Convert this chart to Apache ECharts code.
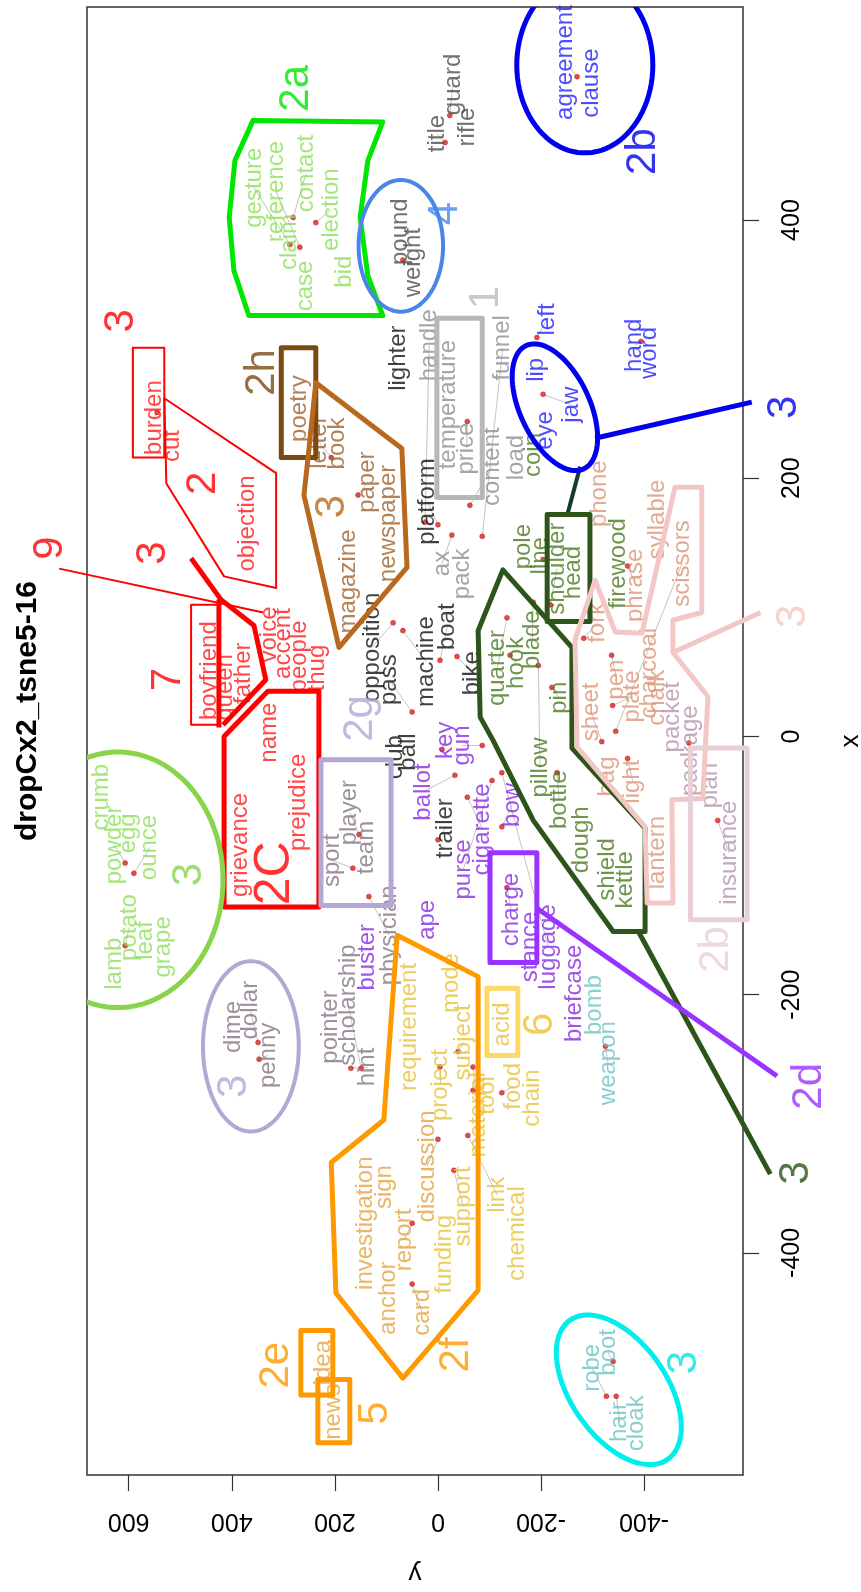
<!DOCTYPE html>
<html>
<head>
<meta charset="utf-8">
<script src="https://cdn.jsdelivr.net/npm/echarts@6/dist/echarts.min.js"></script>
<style>
html, body { margin: 0; padding: 0; background: #fff; }
#chart { width: 861px; height: 1592px; }
</style>
</head>
<body>
<div id="chart"></div>
<script>
// t-SNE coordinates (x = horizontal axis of the original plot, y = vertical)
var words = [
  'gesture','reference','claim','contact','case','election','bid','crumb','powder','egg','ounce','lamb','potato','leaf','grape',
  'title','guard','rifle','pound','weight',
  'agreement','clause','left','lip','eye','jaw','hand','word',
  'burden','cut','objection','boyfriend','queen','father','voice','accent','people','thug','name','grievance','prejudice',
  'poetry','letter','book','paper','newspaper','magazine',
  'opposition','pass','lighter','platform','machine','boat','bike','club','ball','trailer',
  'handle','temperature','price','content','funnel','load','ax','pack',
  'coin','pole','line','quarter','hook','blade','pin','pillow','bottle','dough','shield','kettle','firewood','shoulder','head',
  'phone','syllable','phrase','scissors','fork','pen','plate','charcoal','chalk','sheet','bag','light','lantern',
  'packet','package','plan','insurance',
  'sport','player','team','pointer','scholarship','hint','physician','dime','dollar','penny',
  'key','gun','ballot','purse','cigarette','bow','ape','charge','stance','luggage','briefcase','buster',
  'bomb','weapon','robe','boot','hair','cloak',
  'investigation','sign','anchor','report','discussion','card','idea','news',
  'requirement','project','subject','mode','acid','food','chain','tool','material','link','chemical','support','funding'
];
var wordX = [
  425,422,383,436,349,408,360,-47,-84,-75,-86,-176,-148,-158,-163,
  467,505,472,391,367,
  522,506,323,284,237,257,303,297,
  247,225,165,51,38,49,79,72,62,53,3,-84,-51,
  254,228,227,197,165,120,
  69,44,293,182,58,85,49,-16,-12,-71,
  303,257,223,209,301,216,134,126,
  218,147,140,53,57,75,30,-24,-49,-80,-103,-111,134,130,127,
  188,168,117,134,88,44,31,49,30,19,-31,-35,-90,
  15,-11,-38,-90,
  -96,-59,-86,-225,-208,-256,-154,-225,-212,-247,
  -3,-7,-43,-103,-72,-53,-142,-134,-163,-163,-199,-171,
  -208,-253,-489,-477,-531,-532,
  -377,-349,-435,-390,-333,-446,-485,-523,
  -225,-270,-237,-191,-223,-271,-280,-278,-293,-355,-385,-364,-401
];
var wordY = [
  357,314,289,256,258,207,182,654,628,601,559,628,599,568,533,
  2,-29,-58,72,48,
  -247,-297,-212,-192,-208,-258,-382,-411,
  551,516,370,444,413,378,328,299,268,233,328,384,271,
  269,231,196,136,97,174,
  128,95,77,21,23,-18,-66,83,58,-14,
  17,-20,-56,-105,-126,-153,-8,-47,
  -186,-165,-198,-115,-152,-183,-235,-198,-235,-278,-328,-363,-351,-231,-262,
  -314,-425,-384,-474,-309,-347,-377,-411,-426,-297,-329,-378,-425,
  -454,-490,-528,-565,
  205,171,139,209,174,136,95,397,364,330,
  -14,-47,29,-49,-87,-144,21,-142,-179,-214,-264,136,
  -303,-330,-299,-330,-353,-386,
  141,103,97,66,21,31,223,202,
  56,-4,-49,-27,-126,-146,-183,-95,-78,-115,-155,-49,-12
];
var wordGroup = [
  'lime','lime','lime','lime','lime','lime','lime','lime','lime','lime','lime','lime','lime','lime','lime',
  'dark','dark','dark','dark','dark',
  'blue','blue','blue','blue','blue','blue','blue','blue',
  'red','red','red','red','red','red','red','red','red','red','red','red','red',
  'brown','brown','brown','brown','brown','brown',
  'black','black','black','black','black','black','black','black','black','black',
  'grey','grey','grey','grey','grey','grey','grey','grey',
  'olive','olive','olive','olive','olive','olive','olive','olive','olive','olive','olive','olive','olive','olive','olive',
  'salmon','salmon','salmon','salmon','salmon','salmon','salmon','salmon','salmon','salmon','salmon','salmon','salmon',
  'mauve','mauve','mauve','mauve',
  'lav','lav','lav','lav','lav','lav','lav','lav','lav','lav',
  'purple','purple','purple','purple','purple','purple','purple','purple','purple','purple','purple','purple',
  'teal','teal','teal','teal','teal','teal',
  'orange','orange','orange','orange','orange','orange','orange','orange',
  'yellow','yellow','yellow','yellow','yellow','yellow','yellow','yellow','yellow','yellow','yellow','yellow','yellow'
];

// the red points and the word each one is tied to
var dotWord = ['contact','gesture','reference','election','weight','title','guard','agreement','left','jaw','hand',
  'burden','letter','paper','opposition','price','funnel','content','platform','handle','ax','machine','pass','boat','bike',
  'line','quarter','blade','hook','pin','pillow','phrase','fork','pen','plate','sheet','scissors','light','package','insurance',
  'shoulder','bottle','powder','ounce','potato','sport','player','physician','dollar','penny','hint','scholarship',
  'key','ballot','gun','cigarette','trailer','bow','purse','charge','luggage','weapon','project','subject','material','tool','food',
  'report','discussion','card','support','link','robe','hair','boot'];
var dotX = [402,381,379,398,369,460,481,511,309,265,306,
  251,216,187,88,244,155,179,164,166,156,82,19,59,62,
  137,92,104,63,38,55,132,76,63,24,-4,4,-17,-5,-65,
  102,-28,-98,-106,-162,-102,-76,-124,-237,-250,-257,-257,
  -10,-30,-7,-47,-80,-70,-34,-117,-28,-240,-256,-244,-256,-274,-276,
  -377,-312,-424,-336,-309,-511,-511,-484];
var dotY = [281,287,268,237,68,-14,-23,-270,-192,-204,-394,
  545,207,155,87,-57,-86,-62,0,25,-27,68,50,-4,-37,
  -204,-134,-185,-140,-221,-195,-368,-283,-337,-339,-318,-345,-368,-487,-543,
  -218,-231,607,590,607,165,153,134,349,347,169,149,
  -8,-33,-86,-57,0,-124,-105,-134,-124,-325,-4,-39,-68,-68,-124,
  50,0,50,-31,-58,-327,-346,-340];

var xTicks = [-400, -200, 0, 200, 400];
var yTicks = [-400, -200, 0, 200, 400, 600];

// hand-drawn cluster outlines, points as [x, y]
var cyl2a = [[477,359],[476,107],[446,136],[402,151],[357,136],[326,107],[326,367],[361,396],[402,405],[446,394]];
var boxTemperature = [[324,2],[324,-86],[185,-86],[185,2]];
var lineBlue3 = [[231,-305],[259,-609]];
var linkShoulder = [[173,-252],[209,-276]];
var boxShoulder = [[172,-212],[172,-295],[89,-295],[89,-212]];
var polyOlive = [[129,-126],[69,-260],[-9,-260],[-71,-402],[-151,-402],[-151,-340],[-65,-185],[-3,-107],[15,-82],[82,-78]];
var tailOlive = [[-151,-389],[-339,-645]];
var boxCharge = [[-90,-101],[-90,-192],[-175,-192],[-175,-101]];
var linePurple = [[-133,-192],[-263,-658]];
var boxBurden = [[301,592],[301,531],[216,531],[216,592]];
var polyObjection = [[262,531],[204,314],[115,314],[124,415],[196,527]];
var line9 = [[130,735],[96,339]];
var pathRed7 = [[138,479],[106,421],[86,357],[44,334],[9,417]];
var lineRed7 = [[106,425],[7,425]];
var boxBoyfriend = [[102,479],[102,425],[9,425],[9,479]];
var box2c = [[35,231],[-132,231],[-132,415],[0,415],[35,330]];
var boxPoetry = [[301,304],[301,237],[216,237],[216,304]];
var polyBrown = [[274,237],[223,70],[131,60],[69,192],[187,260],[216,252]];
var boxSport = [[-18,227],[-18,91],[-131,91],[-131,227]];
var polyOrange = [[-154,79],[-186,-78],[-429,-78],[-497,68],[-431,198],[-330,207],[-297,105]];
var boxIdea = [[-460,266],[-460,204],[-510,204],[-510,266]];
var boxNews = [[-498,233],[-498,171],[-547,171],[-547,233]];
var boxAcid = [[-195,-95],[-195,-155],[-247,-155],[-247,-95]];
var polyPink = [[75,-266],[-8,-270],[-70,-402],[-129,-406],[-129,-456],[-49,-454],[-48,-514],[31,-524],[65,-456],
  [90,-456],[96,-512],[193,-512],[193,-460],[80,-396],[81,-344],[121,-305]];
var linePink = [[65,-456],[96,-626]];
var boxPlan = [[-9,-490],[-9,-600],[-142,-600],[-142,-490]];

// ellipses: centre [x, y], half widths [along y, along x], tilt in degrees
var ellAgree = {c: [520,-285], r: [132,68], tilt: 0};
var ellPound = {c: [380,72], r: [82,51], tilt: 0};
var ellEye = {c: [255,-227], r: [132,27], tilt: 65};
var ellCrumb = {c: [-111,621], r: [204,99], tilt: 0};
var ellDime = {c: [-240,363], r: [93,66], tilt: 0};
var ellCyan = {c: [-506,-351], r: [165,37], tilt: 55};

// group labels: text, x, y
var tagText = ['2a','2b','4','1','3','3','2','2h','3','9','3','7','2C','2g','3','3','2e','5','2f','6','3','3','2b','2d','3'];
var tagX = [502,453,405,340,255,322,196,282,178,146,142,44,-106,14,-107,-271,-487,-524,-479,-223,-485,93,-165,-271,-338];
var tagY = [275,-399,-14,-95,-673,615,456,341,204,752,553,523,316,151,483,394,314,122,-35,-198,-479,-689,-541,-721,-695];

var groupColors = {
  lime: '#8ee05a', dark: '#4d4d4d', blue: '#1f1fff', red: '#ff1a1a', brown: '#a0612d',
  black: '#111111', grey: '#8f8f8f', olive: '#4b7a20', salmon: '#dd9575', mauve: '#b393ab',
  lav: '#857585', purple: '#8a2be2', teal: '#6cc4c0', orange: '#e5a33d', yellow: '#e8c23a'
};
var tagColors = ['#00e600','#0000ee','#4a86e8','#bbbbbb','#0000ee','#ff0000','#ff0000','#7b4a12','#b8691e','#ff0000',
  '#ff0000','#ff0000','#ff0000','#b4a7d6','#88d44a','#b4a7d6','#ff9900','#ff9900','#ff9900','#f1c232','#00e5e5',
  '#f4c7c7','#e8d0d6','#9933ff','#2e5519'];

var shapeList = [
  {pts: cyl2a, color: '#00e600', width: 5, closed: true},
  {pts: boxTemperature, color: '#b7b7b7', width: 5, closed: true},
  {pts: lineBlue3, color: '#0000ee', width: 5, closed: false},
  {pts: linkShoulder, color: '#163a2e', width: 4, closed: false},
  {pts: boxShoulder, color: '#2e5519', width: 5, closed: true},
  {pts: polyOlive, color: '#2e5519', width: 5, closed: true},
  {pts: tailOlive, color: '#2e5519', width: 5, closed: false},
  {pts: boxCharge, color: '#9933ff', width: 5, closed: true},
  {pts: linePurple, color: '#9933ff', width: 5, closed: false},
  {pts: boxBurden, color: '#ff0000', width: 2, closed: true},
  {pts: polyObjection, color: '#ff0000', width: 2, closed: true},
  {pts: line9, color: '#ff0000', width: 2, closed: false},
  {pts: pathRed7, color: '#ff0000', width: 5, closed: false},
  {pts: lineRed7, color: '#ff0000', width: 5, closed: false},
  {pts: boxBoyfriend, color: '#ff0000', width: 2, closed: true},
  {pts: box2c, color: '#ff0000', width: 5, closed: true},
  {pts: boxPoetry, color: '#7b4a12', width: 5, closed: true},
  {pts: polyBrown, color: '#b8691e', width: 5, closed: true},
  {pts: boxSport, color: '#b4a7d6', width: 5, closed: true},
  {pts: polyOrange, color: '#ff9900', width: 5, closed: true},
  {pts: boxIdea, color: '#ff9900', width: 5, closed: true},
  {pts: boxNews, color: '#ff9900', width: 5, closed: true},
  {pts: boxAcid, color: '#ffd966', width: 5, closed: true},
  {pts: polyPink, color: '#f4c7c7', width: 5, closed: true},
  {pts: linePink, color: '#f4c7c7', width: 5, closed: false},
  {pts: boxPlan, color: '#e8d0d6', width: 5, closed: true}
];
var ellipseList = [
  {e: ellPound, color: '#4a86e8', width: 4},
  {e: ellEye, color: '#0000ee', width: 5},
  {e: ellDime, color: '#b4a7d6', width: 4},
  {e: ellCyan, color: '#00eeee', width: 5}
];
var clippedEllipses = [
  {e: ellAgree, color: '#0000ee', width: 5},
  {e: ellCrumb, color: '#88d44a', width: 5}
];

var FONT = '"Liberation Sans", Arial, sans-serif';

var wordIndex = {};
var wordData = words.map(function (w, i) {
  wordIndex[w] = i;
  return {name: w, value: [wordY[i], wordX[i]], label: {color: groupColors[wordGroup[i]]}};
});
var dotData = dotWord.map(function (w, i) { return [dotY[i], dotX[i]]; });
var leaderData = dotWord.map(function (w, i) {
  var k = wordIndex[w];
  return {coords: [[dotY[i], dotX[i]], [wordY[k], wordX[k]]]};
});
var tagData = tagText.map(function (t, i) {
  return {name: t, value: [tagY[i], tagX[i]], label: {color: tagColors[i], fontSize: t === '2C' ? 50 : 42}};
});

function drawShape(params, api) {
  var s = shapeList[params.dataIndex];
  var pts = s.pts.map(function (p) { return api.coord([p[1], p[0]]); });
  return {
    type: s.closed ? 'polygon' : 'polyline',
    shape: {points: pts},
    style: {fill: 'none', stroke: s.color, lineWidth: s.width, lineJoin: 'round'}
  };
}

function ellipseRenderer(list) {
  return function (params, api) {
    var it = list[params.dataIndex];
    var c = api.coord([it.e.c[1], it.e.c[0]]);
    var sz = api.size([it.e.r[0], it.e.r[1]]);
    var a = Math.abs(sz[0]), b = Math.abs(sz[1]);
    var th = it.e.tilt * Math.PI / 180;
    var pts = [];
    for (var k = 0; k < 90; k++) {
      var t = k / 90 * Math.PI * 2;
      var u = a * Math.cos(t), v = b * Math.sin(t);
      pts.push([c[0] + u * Math.cos(th) - v * Math.sin(th), c[1] + u * Math.sin(th) + v * Math.cos(th)]);
    }
    return {type: 'polygon', shape: {points: pts}, style: {fill: 'none', stroke: it.color, lineWidth: it.width}};
  };
}

var chart = echarts.init(document.getElementById('chart'));
var option = {
  animation: false,
  backgroundColor: '#fff',
  textStyle: {fontFamily: FONT},
  graphic: [{
    type: 'text', x: 28, y: 711, rotation: Math.PI / 2,
    style: {text: 'dropCx2_tsne5-16', font: 'bold 30px ' + FONT, fill: '#000', align: 'center', verticalAlign: 'middle'}
  }],
  grid: {left: 87, right: 118, top: 7, bottom: 117, outerBoundsMode: 'none', containLabel: false,
    show: true, borderColor: '#333', borderWidth: 1.5},
  xAxis: {
    type: 'value', min: -592, max: 681, inverse: true, position: 'bottom',
    name: 'y', nameLocation: 'middle', nameGap: 98, nameRotate: 180,
    nameTextStyle: {fontSize: 26, color: '#000', fontFamily: FONT, align: 'center', verticalAlign: 'middle'},
    axisLine: {show: false, onZero: false}, splitLine: {show: false},
    axisTick: {show: true, length: 16, lineStyle: {color: '#333', width: 1.2}, customValues: yTicks},
    axisLabel: {customValues: yTicks, rotate: 180, margin: 46, fontSize: 25, color: '#000', fontFamily: FONT,
      align: 'center', verticalAlign: 'middle'}
  },
  yAxis: {
    type: 'value', min: -572, max: 565, position: 'right',
    name: 'x', nameLocation: 'middle', nameGap: 108, nameRotate: 90,
    nameTextStyle: {fontSize: 26, color: '#000', fontFamily: FONT, align: 'center', verticalAlign: 'middle'},
    axisLine: {show: false, onZero: false}, splitLine: {show: false},
    axisTick: {show: true, length: 16, lineStyle: {color: '#333', width: 1.2}, customValues: xTicks},
    axisLabel: {customValues: xTicks, rotate: 90, margin: 49, fontSize: 25, color: '#000', fontFamily: FONT,
      align: 'center', verticalAlign: 'middle'}
  },
  series: [
    {
      type: 'lines', coordinateSystem: 'cartesian2d', data: leaderData, silent: true, z: 1,
      lineStyle: {color: '#c4c4c4', width: 1, opacity: 1}
    },
    {
      type: 'scatter', data: dotData, symbolSize: 5, silent: true, z: 2, clip: false,
      itemStyle: {color: '#e0211d', borderColor: '#b01010', borderWidth: 0.5}
    },
    {
      type: 'scatter', data: wordData, symbolSize: 0, silent: true, z: 3, clip: false,
      label: {show: true, position: 'inside', rotate: 90, fontSize: 24, fontFamily: FONT,
        formatter: function (p) { return p.name; }}
    },
    {
      type: 'custom', data: shapeList.map(function (s) { return [s.pts[0][1], s.pts[0][0]]; }),
      renderItem: drawShape, silent: true, z: 4, clip: false
    },
    {
      type: 'custom', data: ellipseList.map(function (s) { return [s.e.c[1], s.e.c[0]]; }),
      renderItem: ellipseRenderer(ellipseList), silent: true, z: 4, clip: false
    },
    {
      type: 'custom', data: clippedEllipses.map(function (s) { return [s.e.c[1], s.e.c[0]]; }),
      renderItem: ellipseRenderer(clippedEllipses), silent: true, z: 4, clip: true
    },
    {
      type: 'scatter', data: tagData, symbolSize: 0, silent: true, z: 5, clip: false,
      label: {show: true, position: 'inside', rotate: 90, fontFamily: FONT,
        formatter: function (p) { return p.name; }}
    }
  ]
};
chart.setOption(option);
window.addEventListener('resize', chart.resize);
</script>
</body>
</html>
